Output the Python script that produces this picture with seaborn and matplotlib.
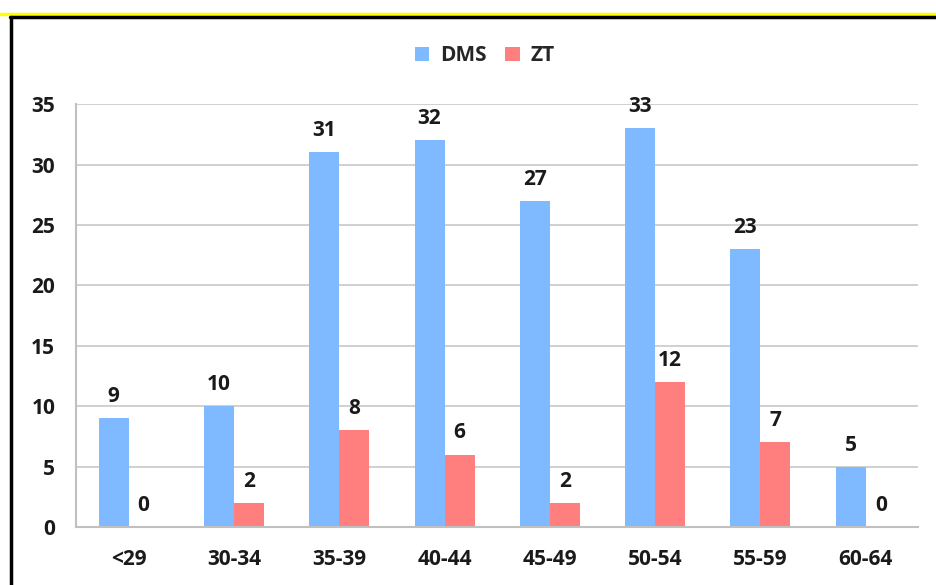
import matplotlib
matplotlib.use("Agg")
import matplotlib.pyplot as plt
import seaborn as sns
import pandas as pd
import numpy as np
from matplotlib.lines import Line2D

age_groups = ["<29", "30-34", "35-39", "40-44", "45-49", "50-54", "55-59", "60-64"]
dms = [9, 10, 31, 32, 27, 33, 23, 5]
zt = [0, 2, 8, 6, 2, 12, 7, 0]
series = ["DMS", "ZT"]
colors = ["#7FB9FF", "#FF7F7F"]
yticks = [0, 5, 10, 15, 20, 25, 30, 35]

df = pd.DataFrame({
    "group": age_groups * 2,
    "series": ["DMS"] * len(age_groups) + ["ZT"] * len(age_groups),
    "value": dms + zt,
})

sns.set_style("white")
plt.rcParams["font.family"] = ["Open Sans", "DejaVu Sans"]
plt.rcParams["font.weight"] = "bold"

FS = 15
TXT = "#1a1a1a"

fig = plt.figure(figsize=(9.36, 5.85), dpi=100)
ax = fig.add_axes([0.0812, 0.0991, 0.9, 0.7229])

sns.barplot(data=df, x="group", y="value", hue="series", order=age_groups,
            hue_order=series, palette=colors, width=0.57, saturation=1,
            edgecolor="none", linewidth=0, ax=ax, legend=True)

ax.set_ylim(0, 35)
ax.set_xlim(-0.5, len(age_groups) - 0.5)
ax.set_yticks(yticks)
ax.yaxis.grid(True, color="#c8c8c8", linewidth=1.2)
ax.set_axisbelow(True)
ax.set_xlabel("")
ax.set_ylabel("")

for side in ["top", "right"]:
    ax.spines[side].set_visible(False)
for side in ["left", "bottom"]:
    ax.spines[side].set_color("#c0c0c0")
    ax.spines[side].set_linewidth(1.5)

ax.tick_params(axis="y", length=7, width=1.2, color="#c0c0c0", pad=8,
               labelsize=FS, labelcolor=TXT)
ax.tick_params(axis="x", which="major", length=0, pad=16,
               labelsize=FS, labelcolor=TXT)
ax.set_xticks(np.arange(-0.5, len(age_groups)), minor=True)
ax.tick_params(axis="x", which="minor", length=7, width=1.2, color="#c0c0c0")
for lab in ax.get_xticklabels() + ax.get_yticklabels():
    lab.set_fontweight("bold")

for cont in ax.containers:
    ax.bar_label(cont, padding=8, fontsize=FS, fontweight="bold", color=TXT)

handles, labels = ax.get_legend_handles_labels()
ax.legend(handles, labels, loc="lower center", bbox_to_anchor=(0.485, 1.045),
          ncol=2, frameon=False, handlelength=0.7,
          handleheight=0.7, handletextpad=0.5, columnspacing=0.9,
          prop={"weight": "bold", "size": FS})

# outer frame like the source document
fig.add_artist(Line2D([0, 1], [1 - 14 / 585, 1 - 14 / 585], color="#ffff00", lw=2.5))
fig.add_artist(Line2D([0.011, 1], [1 - 17 / 585, 1 - 17 / 585], color="black", lw=2.5))
fig.add_artist(Line2D([11 / 936, 11 / 936], [0, 1 - 17 / 585], color="black", lw=2.5))

fig.savefig("out.png", dpi=100)
